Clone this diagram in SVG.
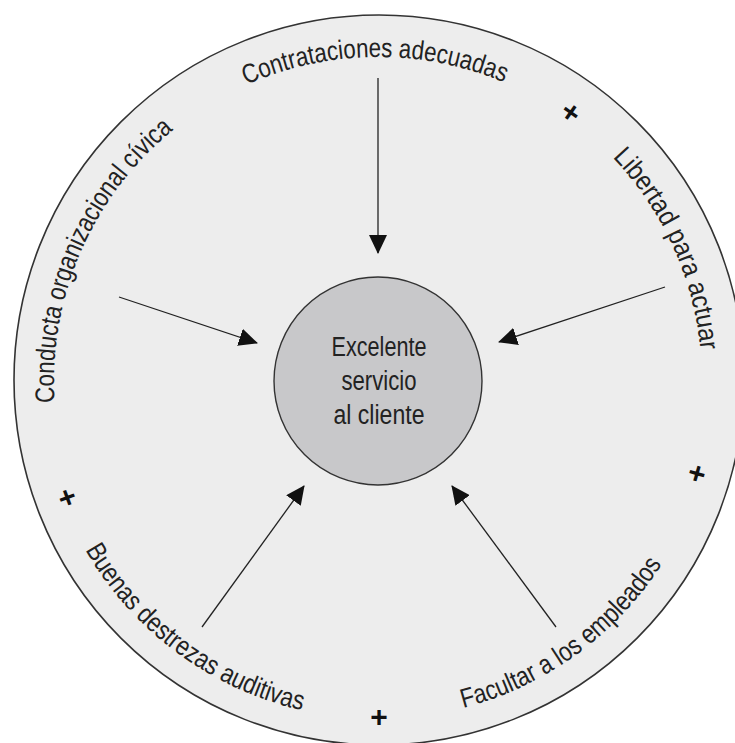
<svg xmlns="http://www.w3.org/2000/svg" xmlns:xlink="http://www.w3.org/1999/xlink" width="735" height="743" viewBox="0 0 735 743">
<style>
.lbl{font-family:"Liberation Sans",Arial,sans-serif;font-size:27px;fill:#222}
.ctr{font-family:"Liberation Sans",Arial,sans-serif;font-size:27px;fill:#222;text-anchor:middle}
.plus{font-family:"Liberation Sans",Arial,sans-serif;font-size:30px;font-weight:bold;fill:#111;text-anchor:middle}
.conn{stroke:#222;stroke-width:1.3;fill:none;marker-end:url(#ah)}
</style>
<defs>
<marker id="ah" viewBox="0 0 19 18" refX="18" refY="9" markerWidth="19" markerHeight="18" markerUnits="userSpaceOnUse" orient="auto">
<path d="M0,0 L19,9 L0,18 Z" fill="#111"/>
</marker>
<path id="upper" d="M73.54,491.81 A324,324 0 1 1 682.46,491.81"/>
<path id="lower" d="M45.14,439.69 A338,338 0 0 0 710.86,439.69"/>
</defs>
<rect width="735" height="743" fill="#ffffff"/>
<g id="outer-ring">
<circle cx="379" cy="380" r="365" fill="#ededed" stroke="#333" stroke-width="1.6"/>
</g>
<g id="center">
<circle cx="378" cy="381" r="104" fill="#c8c8ca" stroke="#333" stroke-width="1.4"/>
<text class="ctr" x="379" y="356" textLength="95" lengthAdjust="spacingAndGlyphs">Excelente</text>
<text class="ctr" x="379" y="390" textLength="75" lengthAdjust="spacingAndGlyphs">servicio</text>
<text class="ctr" x="379" y="424" textLength="91" lengthAdjust="spacingAndGlyphs">al cliente</text>
</g>
<g id="label-conducta">
<text class="lbl"><textPath href="#upper" xlink:href="#upper" startOffset="91.6" textLength="309" lengthAdjust="spacingAndGlyphs">Conducta organizacional cívica</textPath></text>
</g>
<g id="label-contrataciones">
<text class="lbl"><textPath href="#upper" xlink:href="#upper" startOffset="486.3" textLength="265" lengthAdjust="spacingAndGlyphs">Contrataciones adecuadas</textPath></text>
</g>
<g id="label-libertad">
<text class="lbl"><textPath href="#upper" xlink:href="#upper" startOffset="883.9" textLength="216" lengthAdjust="spacingAndGlyphs">Libertad para actuar</textPath></text>
</g>
<g id="label-buenas">
<text class="lbl"><textPath href="#lower" xlink:href="#lower" startOffset="118" textLength="277" lengthAdjust="spacingAndGlyphs">Buenas destrezas auditivas</textPath></text>
</g>
<g id="label-facultar">
<text class="lbl"><textPath href="#lower" xlink:href="#lower" startOffset="558" textLength="251" lengthAdjust="spacingAndGlyphs">Facultar a los empleados</textPath></text>
</g>
<g id="plus-marks">
<text class="plus" transform="translate(571,112) rotate(35.7)" x="0" y="10.6">+</text>
<text class="plus" transform="translate(697,473) rotate(16.1)" x="0" y="10.6">+</text>
<text class="plus" transform="translate(379,716)" x="0" y="10.6">+</text>
<text class="plus" transform="translate(67,497) rotate(-20.5)" x="0" y="10.6">+</text>
</g>
<g id="connectors">
<line class="conn" x1="378" y1="78" x2="378" y2="253"/>
<line class="conn" x1="119" y1="297" x2="257" y2="343"/>
<line class="conn" x1="665" y1="287" x2="499" y2="342"/>
<line class="conn" x1="202" y1="627" x2="304" y2="486"/>
<line class="conn" x1="556" y1="627" x2="452" y2="486"/>
</g>
</svg>
